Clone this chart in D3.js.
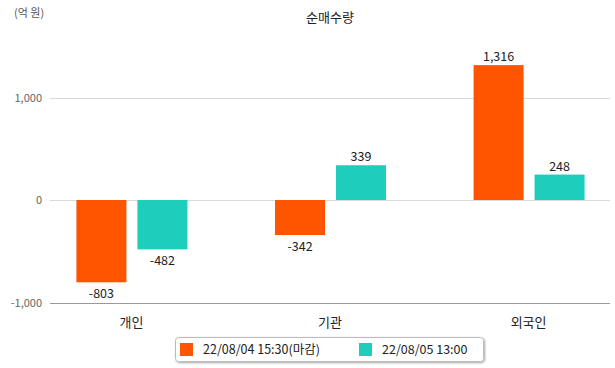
<!DOCTYPE html>
<html><head><meta charset="utf-8">
<script src="https://cdn.jsdelivr.net/npm/d3@7"></script>
<style>body{margin:0;background:#fff;font-family:"Noto Sans CJK KR","Noto Sans",sans-serif;}</style>
</head><body><svg id="c" width="615" height="368"></svg>
<script>
const categories = ["개인", "기관", "외국인"];
const seriesNames = ["22/08/04 15:30(마감)", "22/08/05 13:00"];
const series1 = [-803, -342, 1316];
const series2 = [-482, 339, 248];
const yTicks = [-1000, 0, 1000];
const colors = ["#ff5500", "#1ecdbb"];

const svg = d3.select("#c");
const font = '"Noto Sans CJK KR","Noto Sans",sans-serif';
const y = d3.scaleLinear().domain([-1000, 1000]).range([302.5, 97.5]);
const x = d3.scalePoint().domain(categories).range([50, 610]).padding(0.41);
const loc = d3.formatLocale({decimal: ".", thousands: ",", grouping: [3], currency: ["", ""], minus: "-"});
const fmt = loc.format(",");

// grid
svg.append("g").selectAll("line").data(yTicks).join("line")
  .attr("x1", 50).attr("x2", 610)
  .attr("y1", d => Math.round(y(d)) + 0.5).attr("y2", d => Math.round(y(d)) + 0.5)
  .attr("stroke", d => d === -1000 ? "#999" : "#d8d8d8");
svg.append("g").selectAll("text").data(yTicks).join("text")
  .attr("x", 42).attr("y", d => y(d) + 4)
  .attr("text-anchor", "end").attr("font-size", 11).attr("fill", "#666")
  .attr("font-family", font).text(d => fmt(d));

svg.append("text").attr("x", 14).attr("y", 17).attr("font-size", 11).attr("fill", "#555")
  .attr("font-family", font).text("(억 원)");
svg.append("text").attr("x", 330).attr("y", 22).attr("text-anchor", "middle")
  .attr("font-size", 13).attr("fill", "#222").attr("font-family", font).text("순매수량");

const data = [series1, series2];
const bw = 50, offs = [-55, 6];
data.forEach((s, si) => {
  const g = svg.append("g");
  g.selectAll("rect").data(s).join("rect")
    .attr("x", (d, i) => x(categories[i]) + offs[si])
    .attr("width", bw)
    .attr("y", d => Math.min(y(d), y(0)))
    .attr("height", d => Math.abs(y(d) - y(0)))
    .attr("fill", colors[si]);
  g.selectAll("text").data(s).join("text")
    .attr("x", (d, i) => x(categories[i]) + offs[si] + bw / 2)
    .attr("y", d => d >= 0 ? y(d) - 4 : y(d) + 16)
    .attr("text-anchor", "middle").attr("font-size", 12.5).attr("fill", "#222")
    .attr("font-family", font).text(d => fmt(d));
});

svg.append("g").selectAll("text").data(categories).join("text")
  .attr("x", d => x(d)).attr("y", 327).attr("text-anchor", "middle")
  .attr("font-size", 13).attr("fill", "#222").attr("font-family", font).text(d => d);

// legend
const defs = svg.append("defs");
const f = defs.append("filter").attr("id", "sh").attr("x", "-10%").attr("y", "-30%").attr("width", "120%").attr("height", "170%");
f.append("feDropShadow").attr("dx", 1).attr("dy", 1).attr("stdDeviation", 1).attr("flood-color", "#000").attr("flood-opacity", 0.35);
const lg = svg.append("g");
lg.append("rect").attr("x", 175.5).attr("y", 337.5).attr("width", 308).attr("height", 24).attr("rx", 3)
  .attr("fill", "#fff").attr("stroke", "#bbb").attr("filter", "url(#sh)");
const lx = [180, 359];
seriesNames.forEach((n, i) => {
  lg.append("rect").attr("x", lx[i]).attr("y", 343).attr("width", 13).attr("height", 13).attr("fill", colors[i]);
  lg.append("text").attr("x", lx[i] + 23).attr("y", 354).attr("font-size", 12.5).attr("fill", "#222")
    .attr("font-family", font).text(n);
});
</script></body></html>
